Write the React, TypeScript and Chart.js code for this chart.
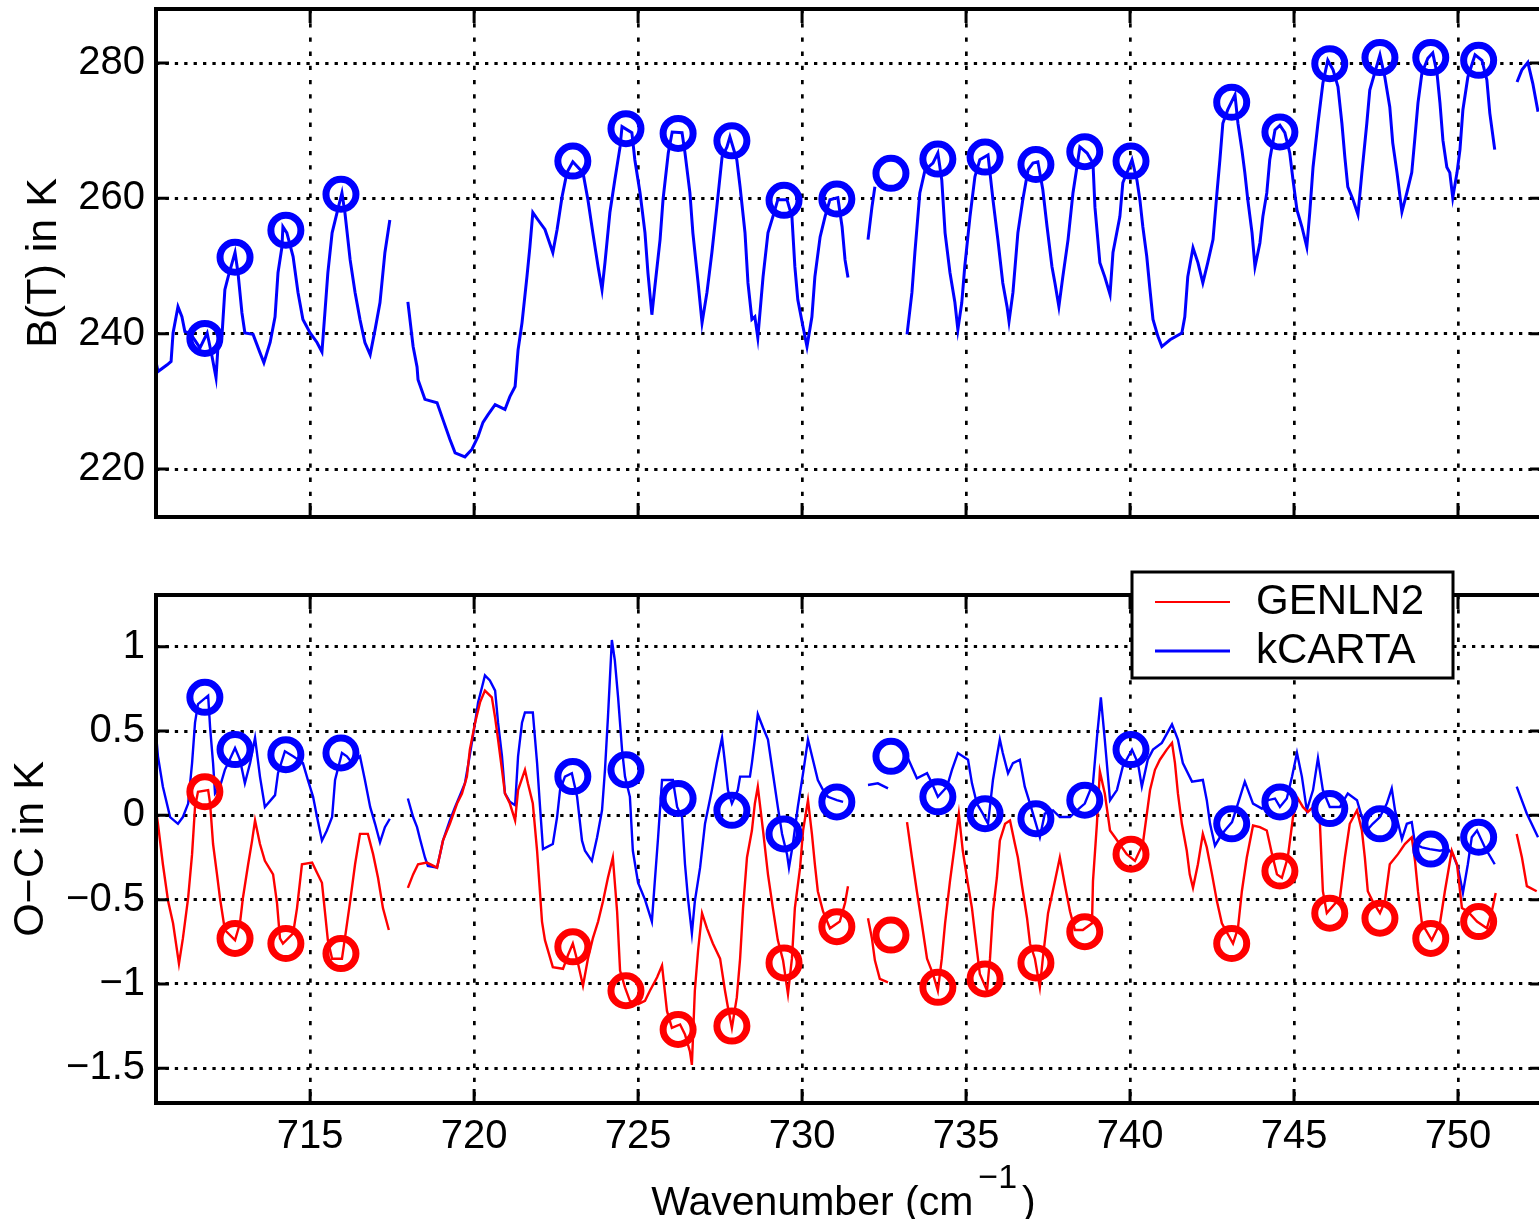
import React, { useEffect, useRef } from 'react';
import { Chart, registerables } from 'chart.js';

Chart.register(...registerables);

const FONT = "'Liberation Sans', Arial, Helvetica, sans-serif";
const BLUE = '#0000ff';
const RED = '#ff0000';

// ---------- axis values ----------
const wnTicks = [715, 720, 725, 730, 735, 740, 745, 750];
const btTicks = [220, 240, 260, 280];
const ocTicks = [-1.5, -1, -0.5, 0, 0.5, 1];
const WN_MIN = 710.3;
const WN_MAX = 752.47;
const BT_MIN = 212.91;
const BT_MAX = 287.98;
const OC_MIN = -1.706;
const OC_MAX = 1.307;

// ---------- top panel: brightness temperature (null = gap) ----------
const topWn = [
  710.27, 710.36, 710.64, 710.76, 710.82, 710.97, 711.09, 711.18, 711.34, 711.64, 711.86, 712.01, 712.13, 712.19, 712.31,
  712.40, 712.50, 712.71, 712.80, 712.92, 713.01, 713.26, 713.47, 713.59, 713.78, 713.93, 714.02, 714.14, 714.17, 714.29,
  714.48, 714.63, 714.78, 715.00, 715.21, 715.36, 715.45, 715.54, 715.67, 715.82, 715.97, 716.06, 716.22, 716.37, 716.52,
  716.67, 716.83, 716.98, 717.13, 717.28, 717.43, 717.7,
  717.98, 718.14, 718.26, 718.29, 718.50, 718.87, 719.05, 719.26, 719.42, 719.72, 719.93, 720.12, 720.27, 720.42, 720.64,
  720.94, 721.09, 721.25, 721.34, 721.46, 721.61, 721.70, 721.79, 721.95, 722.16, 722.40, 722.53, 722.68, 722.83, 723.01,
  723.32, 723.47, 723.62, 723.78, 723.90, 723.99, 724.14, 724.29, 724.45, 724.51, 724.81, 724.90, 725.06, 725.21, 725.30,
  725.42, 725.51, 725.67, 725.76, 725.92, 726.04, 726.34, 726.43, 726.58, 726.67, 726.83, 726.95, 727.10, 727.25, 727.40,
  727.56, 727.71, 727.80, 728.01, 728.11, 728.26, 728.35, 728.47, 728.56, 728.65, 728.81, 728.96, 729.11, 729.26, 729.54,
  729.69, 729.78, 729.87, 730.03, 730.15, 730.30, 730.39, 730.55, 730.70, 730.85, 731.09, 731.22, 731.31, 731.40, 731.7,
  732.01, 732.13, 732.22, 732.7,
  733.20, 733.35, 733.44, 733.59, 733.75, 733.99, 734.14, 734.26, 734.36, 734.51, 734.66, 734.75, 734.87, 734.96, 735.12,
  735.27, 735.42, 735.67, 735.82, 735.97, 736.12, 736.25, 736.31, 736.43, 736.58, 736.73, 736.89, 737.04, 737.19, 737.34,
  737.47, 737.62, 737.71, 737.83, 737.95, 738.11, 738.26, 738.38, 738.47, 738.69, 738.87, 738.93, 739.08, 739.23, 739.39,
  739.48, 739.69, 739.78, 739.94, 740.06, 740.21, 740.30, 740.39, 740.51, 740.60, 740.70, 740.85, 740.97, 741.22, 741.58,
  741.67, 741.76, 741.92, 742.07, 742.22, 742.37, 742.53, 742.65, 742.74, 742.83, 742.98, 743.20, 743.29, 743.41, 743.50,
  743.59, 743.72, 743.81, 743.96, 744.05, 744.17, 744.26, 744.42, 744.57, 744.72, 744.87, 744.97, 745.09, 745.24, 745.39,
  745.48, 745.58, 745.73, 745.88, 746.03, 746.19, 746.34, 746.46, 746.55, 746.64, 746.80, 746.95, 747.07, 747.22, 747.31,
  747.47, 747.62, 747.77, 747.92, 748.01, 748.14, 748.29, 748.44, 748.59, 748.68, 748.78, 748.90, 749.08, 749.23, 749.36,
  749.45, 749.54, 749.66, 749.75, 749.84, 749.97, 750.06, 750.15, 750.30, 750.52, 750.73, 750.88, 750.97, 751.12, 751.45,
  751.80, 751.95, 752.13, 752.28, 752.44,
];
const topBT = [
  236.6, 234.4, 235.4, 235.9, 240.1, 244.0, 242.5, 240.3, 240.1, 237.9, 240.1, 236.6, 233.5, 238.1, 239.6,
  246.5, 248.4, 252.0, 249.0, 243.1, 240.1, 239.9, 237.2, 235.7, 238.7, 242.5, 249.0, 252.8, 255.8, 254.9,
  251.4, 246.1, 242.1, 240.1, 238.7, 237.3, 243.1, 249.0, 254.9, 257.9, 260.8, 257.9, 250.9, 246.1, 242.1,
  238.7, 236.9, 240.6, 244.6, 252.0, 256.8, null,
  244.7, 238.1, 235.1, 233.2, 230.3, 229.8, 227.3, 224.4, 222.4, 221.8, 222.9, 224.8, 226.9, 228.0, 229.5,
  228.8, 230.7, 232.2, 237.6, 241.6, 248.4, 252.8, 257.9, 256.8, 255.4, 252.0, 255.4, 260.2, 263.8, 265.4,
  263.8, 259.8, 254.9, 249.9, 246.5, 250.5, 257.9, 262.7, 267.6, 270.6, 269.7, 265.7, 260.8, 254.9, 249.0,
  242.8, 246.9, 253.9, 259.8, 266.7, 269.8, 269.7, 266.7, 260.8, 254.9, 247.5, 241.6, 246.1, 252.0, 258.7,
  266.1, 267.6, 269.1, 265.7, 261.7, 254.9, 247.5, 242.1, 242.5, 239.4, 248.4, 254.9, 257.3, 259.8, 259.8,
  257.3, 249.9, 245.0, 241.0, 238.1, 242.5, 248.4, 254.3, 257.3, 259.8, 260.1, 255.8, 250.9, 248.3, null,
  253.9, 258.7, 261.7, null,
  239.9, 246.1, 252.0, 260.8, 264.2, 265.2, 266.7, 262.7, 254.9, 249.0, 244.6, 240.6, 244.6, 249.9, 257.3,
  263.2, 265.7, 266.4, 259.8, 253.9, 247.5, 244.0, 241.8, 246.1, 254.9, 259.8, 264.2, 265.2, 265.4, 261.3,
  255.8, 249.9, 247.5, 244.0, 248.4, 253.9, 260.8, 264.6, 267.6, 266.7, 265.2, 258.7, 250.5, 248.4, 245.8,
  252.0, 257.3, 262.3, 264.2, 265.7, 262.7, 259.8, 255.8, 251.4, 246.9, 242.1, 239.6, 238.1, 239.1, 240.1,
  242.5, 248.4, 252.7, 250.5, 247.5, 250.5, 253.9, 260.8, 265.7, 271.1, 273.1, 275.3, 271.1, 267.2, 263.8,
  259.8, 254.9, 249.9, 253.4, 257.3, 260.8, 265.7, 270.1, 270.8, 269.7, 266.7, 262.7, 258.3, 255.8, 252.8,
  257.9, 264.6, 271.1, 277.0, 280.4, 279.0, 276.5, 271.1, 266.1, 261.7, 259.8, 257.6, 263.8, 271.1, 276.0,
  278.7, 281.2, 277.9, 273.5, 268.2, 263.8, 258.0, 260.8, 263.8, 268.6, 274.1, 278.5, 280.7, 281.5, 278.5,
  274.1, 268.6, 264.6, 263.8, 260.1, 263.8, 267.2, 273.1, 277.9, 281.2, 280.4, 277.5, 272.6, 267.2, null,
  277.2, 279.0, 280.1, 277.0, 272.8,
];

// ---------- bottom panel: O-C, kCARTA (null = gap) ----------
const kcartaWn = [
  710.27, 710.36, 710.51, 710.73, 710.97, 711.12, 711.28, 711.40, 711.49, 711.58, 711.89, 711.95, 712.04, 712.10, 712.25,
  712.40, 712.50, 712.71, 712.86, 713.01, 713.17, 713.32, 713.47, 713.62, 713.93, 714.02, 714.23, 714.48, 714.78, 714.93,
  715.09, 715.21, 715.36, 715.51, 715.67, 715.76, 715.97, 716.12, 716.28, 716.52, 716.67, 716.83, 716.98, 717.13, 717.28,
  717.43, 717.7,
  717.98, 718.14, 718.26, 718.35, 718.50, 718.59, 718.87, 718.96, 719.05, 719.26, 719.42, 719.57, 719.72, 719.81, 719.93,
  720.03, 720.12, 720.24, 720.33, 720.48, 720.64, 720.73, 720.85, 720.94, 721.09, 721.25, 721.34, 721.46, 721.55, 721.79,
  721.92, 722.01, 722.10, 722.40, 722.53, 722.62, 722.77, 722.98, 723.14, 723.29, 723.38, 723.59, 723.75, 723.90, 723.99,
  724.08, 724.20, 724.29, 724.39, 724.51, 724.60, 724.75, 724.84, 725.00, 725.21, 725.42, 725.51, 725.61, 725.73, 726.06,
  726.19, 726.34, 726.43, 726.52, 726.64, 726.73, 726.89, 727.04, 727.25, 727.40, 727.56, 727.65, 727.74, 727.86, 728.04,
  728.11, 728.41, 728.47, 728.56, 728.65, 728.81, 728.96, 729.11, 729.26, 729.39, 729.54, 729.60, 729.72, 729.87, 730.03,
  730.18, 730.33, 730.48, 730.64, 730.79, 731.06, 731.25, 731.6,
  732.01, 732.31, 732.62, 732.9,
  733.20, 733.50, 733.81, 733.96, 734.14, 734.42, 734.57, 734.75, 735.06, 735.18, 735.33, 735.51, 735.67, 735.82, 735.94,
  736.03, 736.12, 736.28, 736.43, 736.64, 736.79, 736.95, 737.10, 737.25, 737.40, 737.65, 737.86, 738.17, 738.38, 738.62,
  738.87, 738.99, 739.11, 739.23, 739.39, 739.60, 739.78, 740.06, 740.24, 740.36, 740.54, 740.70, 740.97, 741.28, 741.46,
  741.61, 741.89, 742.22, 742.34, 742.44, 742.59, 742.74, 742.89, 743.11, 743.29, 743.50, 743.75, 744.02, 744.20, 744.42,
  744.57, 744.78, 744.94, 745.09, 745.24, 745.39, 745.58, 745.73, 745.88, 746.09, 746.40, 746.64, 746.92, 747.07, 747.22,
  747.40, 747.62, 747.83, 747.98, 748.08, 748.29, 748.44, 748.59, 748.69, 748.90, 749.14, 749.45, 749.69, 749.84, 750.00,
  750.15, 750.30, 750.42, 750.58, 750.82, 751.12, 751.45,
  751.79, 752.10, 752.44,
];
const kcartaOC = [
  0.55, 0.35, 0.17, -0.01, -0.05, -0.01, 0.07, 0.31, 0.55, 0.66, 0.71, 0.52, 0.31, 0.13, 0.17,
  0.27, 0.31, 0.40, 0.33, 0.19, 0.31, 0.46, 0.23, 0.05, 0.12, 0.25, 0.38, 0.35, 0.31, 0.21,
  0.11, -0.01, -0.15, -0.09, -0.01, 0.21, 0.37, 0.35, 0.31, 0.35, 0.21, 0.05, -0.05, -0.16, -0.07,
  -0.02, null,
  0.10, -0.01, -0.07, -0.14, -0.25, -0.30, -0.31, -0.23, -0.15, -0.03, 0.05, 0.12, 0.19, 0.29, 0.43,
  0.55, 0.67, 0.76, 0.83, 0.80, 0.74, 0.55, 0.35, 0.13, 0.08, 0.06, 0.35, 0.55, 0.61, 0.61,
  0.31, 0.05, -0.20, -0.17, -0.01, 0.15, 0.23, 0.25, 0.11, -0.15, -0.21, -0.27, -0.13, 0.03, 0.27,
  0.58, 1.04, 0.92, 0.70, 0.39, 0.23, 0.11, -0.21, -0.40, -0.50, -0.63, -0.39, -0.13, 0.21, 0.21,
  0.05, -0.01, -0.29, -0.49, -0.70, -0.51, -0.31, -0.05, 0.15, 0.31, 0.46, 0.31, 0.15, 0.07, 0.15,
  0.23, 0.23, 0.31, 0.45, 0.60, 0.52, 0.45, 0.25, 0.05, -0.11, -0.23, -0.31, -0.17, 0.05, 0.25,
  0.45, 0.33, 0.21, 0.15, 0.11, 0.09, 0.08, null,
  0.18, 0.19, 0.16, null,
  0.35, 0.22, 0.25, 0.19, 0.11, 0.17, 0.27, 0.37, 0.33, 0.19, 0.07, 0.01, -0.05, 0.21, 0.35,
  0.45, 0.37, 0.25, 0.31, 0.33, 0.17, 0.07, -0.03, -0.13, 0.01, 0.03, -0.01, -0.01, 0.03, 0.07,
  0.19, 0.46, 0.70, 0.45, 0.09, 0.15, 0.29, 0.39, 0.31, 0.17, 0.33, 0.39, 0.43, 0.54, 0.45,
  0.31, 0.20, 0.21, 0.09, -0.05, -0.18, -0.13, -0.09, -0.04, 0.07, 0.20, 0.07, 0.04, 0.09, 0.10,
  0.05, 0.10, 0.23, 0.37, 0.23, 0.03, 0.15, 0.34, 0.15, 0.05, 0.05, 0.13, 0.09, -0.01, -0.09,
  -0.05, -0.01, 0.07, 0.16, 0.03, -0.14, -0.05, -0.04, -0.17, -0.19, -0.20, -0.21, -0.20, -0.23, -0.31,
  -0.46, -0.29, -0.13, -0.09, -0.19, -0.29, null,
  0.17, 0.01, -0.13,
];

// ---------- bottom panel: O-C, GENLN2 (null = gap) ----------
const genln2Wn = [
  710.27, 710.36, 710.51, 710.67, 710.82, 711.00, 711.12, 711.28, 711.40, 711.49, 711.58, 711.89, 711.95, 712.04, 712.16,
  712.25, 712.40, 712.71, 712.86, 712.95, 713.11, 713.23, 713.32, 713.47, 713.62, 713.87, 713.99, 714.08, 714.17, 714.48,
  714.60, 714.75, 715.06, 715.21, 715.36, 715.45, 715.54, 715.67, 715.97, 716.06, 716.22, 716.37, 716.52, 716.76, 716.92,
  717.07, 717.22, 717.40, 717.7,
  717.98, 718.14, 718.29, 718.56, 718.87, 718.96, 719.05, 719.26, 719.48, 719.63, 719.78, 719.87, 720.03, 720.18, 720.33,
  720.54, 720.64, 720.73, 720.85, 720.94, 721.09, 721.25, 721.34, 721.55, 721.64, 721.79, 721.92, 722.07, 722.16, 722.40,
  722.71, 722.86, 723.01, 723.17, 723.32, 723.47, 723.62, 723.78, 723.93, 724.08, 724.23, 724.36, 724.45, 724.60, 724.75,
  725.00, 725.21, 725.36, 725.58, 725.73, 725.88, 726.03, 726.28, 726.43, 726.58, 726.64, 726.73, 726.83, 726.95, 727.10,
  727.28, 727.50, 727.65, 727.74, 727.86, 728.01, 728.11, 728.20, 728.32, 728.47, 728.56, 728.65, 728.81, 728.96, 729.11,
  729.26, 729.42, 729.57, 729.69, 729.78, 729.94, 730.03, 730.18, 730.30, 730.39, 730.48, 730.64, 730.85, 731.15, 731.31,
  731.40, 731.7,
  732.01, 732.13, 732.22, 732.37, 732.62, 732.9,
  733.20, 733.35, 733.50, 733.65, 733.81, 733.99, 734.14, 734.26, 734.36, 734.51, 734.66, 734.78, 734.90, 735.06, 735.18,
  735.27, 735.42, 735.64, 735.73, 735.82, 735.94, 736.03, 736.19, 736.34, 736.49, 736.58, 736.70, 736.86, 736.95, 737.10,
  737.25, 737.34, 737.50, 737.71, 737.86, 738.01, 738.17, 738.32, 738.56, 738.84, 738.87, 738.99, 739.08, 739.23, 739.39,
  739.54, 739.90, 740.15, 740.39, 740.61, 740.76, 740.91, 741.12, 741.28, 741.37, 741.46, 741.58, 741.73, 741.82, 741.92,
  742.07, 742.22, 742.34, 742.50, 742.65, 742.80, 743.14, 743.29, 743.41, 743.56, 743.75, 743.96, 744.17, 744.33, 744.48,
  744.63, 744.81, 744.97, 745.12, 745.27, 745.42, 745.64, 745.79, 745.88, 746.00, 746.40, 746.55, 746.70, 746.92, 747.07,
  747.16, 747.25, 747.40, 747.62, 747.77, 747.92, 748.17, 748.38, 748.59, 748.69, 748.78, 748.90, 749.20, 749.45, 749.60,
  749.81, 749.97, 750.12, 750.30, 750.58, 750.88, 751.03, 751.15, 751.45,
  751.79, 751.95, 752.10, 752.40,
];
const genln2OC = [
  0.07, -0.05, -0.29, -0.51, -0.64, -0.88, -0.73, -0.49, -0.23, 0.05, 0.14, 0.15, 0.07, -0.17, -0.35,
  -0.49, -0.68, -0.74, -0.64, -0.49, -0.29, -0.15, -0.03, -0.17, -0.27, -0.35, -0.52, -0.73, -0.76, -0.70,
  -0.55, -0.29, -0.28, -0.34, -0.40, -0.57, -0.74, -0.85, -0.85, -0.73, -0.51, -0.29, -0.11, -0.11, -0.23,
  -0.37, -0.55, -0.68, null,
  -0.43, -0.35, -0.29, -0.28, -0.31, -0.23, -0.15, -0.05, 0.07, 0.13, 0.23, 0.39, 0.55, 0.67, 0.74,
  0.70, 0.58, 0.45, 0.27, 0.13, 0.07, -0.03, 0.15, 0.27, 0.19, 0.07, -0.21, -0.63, -0.74, -0.90,
  -0.91, -0.83, -0.76, -0.88, -1.01, -0.85, -0.73, -0.63, -0.51, -0.37, -0.25, -0.57, -0.92, -1.02, -1.10,
  -1.12, -1.10, -1.04, -0.96, -0.89, -1.16, -1.26, -1.24, -1.30, -1.40, -1.48, -1.04, -0.80, -0.58, -0.67,
  -0.76, -0.85, -1.04, -1.14, -1.26, -1.08, -0.85, -0.55, -0.25, -0.09, 0.07, 0.17, -0.09, -0.35, -0.55,
  -0.74, -0.86, -1.06, -0.85, -0.55, -0.31, -0.09, 0.09, -0.11, -0.29, -0.45, -0.57, -0.67, -0.63, -0.52,
  -0.42, null,
  -0.61, -0.73, -0.86, -0.97, -0.99, null,
  -0.04, -0.25, -0.45, -0.64, -0.85, -0.94, -1.04, -0.85, -0.64, -0.39, -0.17, 0.01, -0.21, -0.41, -0.55,
  -0.70, -0.94, -1.04, -0.85, -0.57, -0.37, -0.15, -0.05, -0.03, -0.17, -0.25, -0.41, -0.61, -0.76, -0.85,
  -1.02, -0.85, -0.58, -0.39, -0.25, -0.41, -0.57, -0.68, -0.68, -0.64, -0.39, -0.05, 0.26, 0.13, -0.09,
  -0.13, -0.23, -0.27, -0.17, 0.15, 0.27, 0.33, 0.39, 0.43, 0.31, 0.13, -0.05, -0.21, -0.35, -0.43,
  -0.29, -0.11, -0.19, -0.35, -0.51, -0.64, -0.76, -0.67, -0.45, -0.25, -0.06, -0.07, -0.09, -0.23, -0.35,
  -0.37, -0.25, -0.01, 0.10, 0.05, 0.02, 0.06, -0.05, -0.45, -0.58, -0.49, -0.25, -0.05, 0.03, -0.09,
  -0.25, -0.45, -0.51, -0.58, -0.51, -0.29, -0.23, -0.17, -0.13, -0.27, -0.45, -0.64, -0.74, -0.64, -0.45,
  -0.21, -0.29, -0.55, -0.57, -0.63, -0.67, -0.57, -0.46, null,
  -0.11, -0.25, -0.42, -0.45,
];

// ---------- circled line-centre channels ----------
const peakWn = [
  711.79, 712.71, 714.26, 715.94, 723.01, 724.63, 726.22, 727.86, 729.45, 731.06, 732.71,
  734.14, 735.58, 737.13, 738.62, 740.03, 743.10, 744.57, 746.09, 747.62, 749.17, 750.63,
];
const peakBT = [
  239.3, 251.3, 255.3, 260.6, 265.5, 270.3, 269.6, 268.5, 259.7, 259.9, 263.7,
  265.8, 266.1, 265.0, 266.9, 265.5, 274.2, 269.8, 279.9, 280.8, 280.8, 280.4,
];
const peakKcarta = [
  0.70, 0.39, 0.36, 0.37, 0.23, 0.27, 0.10, 0.03, -0.11, 0.08, 0.35,
  0.11, 0.01, -0.02, 0.09, 0.39, -0.05, 0.08, 0.04, -0.05, -0.20, -0.13,
];
const peakGenln2 = [
  0.14, -0.73, -0.76, -0.82, -0.78, -1.04, -1.27, -1.25, -0.875, -0.66, -0.71,
  -1.02, -0.97, -0.875, -0.69, -0.23, -0.76, -0.33, -0.58, -0.61, -0.73, -0.63,
];

const legendItems = [
  { label: 'GENLN2', color: RED },
  { label: 'kCARTA', color: BLUE },
];

// ---------- helpers ----------
const toPts = (xs: number[], ys: (number | null)[]) => xs.map((x, i) => ({ x, y: ys[i] }));
const fmtNum = (v: any) => {
  const n = Math.round(Number(v) * 10) / 10;
  return (n === 0 ? '0' : String(n)).replace('-', '\u2212');
};

const framePlugin = {
  id: 'matFrame',
  afterDraw(chart: any) {
    const { ctx, chartArea: a, scales } = chart;
    const xs = scales.x;
    const ys = scales.y;
    ctx.save();
    ctx.strokeStyle = '#000';
    ctx.lineCap = 'butt';
    ctx.lineWidth = 3;
    ctx.beginPath();
    xs.ticks.forEach((t: any) => {
      const p = xs.getPixelForValue(t.value);
      ctx.moveTo(p, a.top);
      ctx.lineTo(p, a.top + 14);
      ctx.moveTo(p, a.bottom);
      ctx.lineTo(p, a.bottom - 14);
    });
    ys.ticks.forEach((t: any) => {
      const p = ys.getPixelForValue(t.value);
      ctx.moveTo(a.left, p);
      ctx.lineTo(a.left + 13, p);
      ctx.moveTo(a.right, p);
      ctx.lineTo(a.right - 9, p);
    });
    ctx.stroke();
    ctx.lineWidth = 4;
    ctx.lineJoin = 'miter';
    ctx.beginPath();
    ctx.moveTo(a.right + 4, a.top);
    ctx.lineTo(a.left, a.top);
    ctx.lineTo(a.left, a.bottom);
    ctx.lineTo(a.right + 4, a.bottom);
    ctx.stroke();
    ctx.restore();
  },
};

const legendPlugin = {
  id: 'boxLegend',
  afterDraw(chart: any) {
    const { ctx } = chart;
    const bx = 1132, by = 32, bw = 321, bh = 106;
    ctx.save();
    ctx.fillStyle = '#fff';
    ctx.fillRect(bx, by, bw, bh);
    ctx.strokeStyle = '#000';
    ctx.lineWidth = 3;
    ctx.strokeRect(bx, by, bw, bh);
    legendItems.forEach((it, i) => {
      const y = by + 30 + i * 49;
      ctx.strokeStyle = it.color;
      ctx.lineWidth = i === 0 ? 2 : 3;
      ctx.beginPath();
      ctx.moveTo(bx + 23, y);
      ctx.lineTo(bx + 98, y);
      ctx.stroke();
      ctx.fillStyle = '#000';
      ctx.font = `42px ${FONT}`;
      ctx.textBaseline = 'middle';
      ctx.textAlign = 'left';
      ctx.fillText(it.label, bx + 124, y);
    });
    ctx.restore();
  },
};

const xTitlePlugin = {
  id: 'xTitle',
  afterDraw(chart: any) {
    const { ctx, chartArea: a } = chart;
    const main = `41px ${FONT}`;
    const sup = `34px ${FONT}`;
    const t1 = 'Wavenumber (cm';
    const ts = '\u22121';
    const t2 = ')';
    ctx.save();
    ctx.fillStyle = '#000';
    ctx.textBaseline = 'alphabetic';
    ctx.textAlign = 'left';
    ctx.font = main;
    const w1 = ctx.measureText(t1).width;
    const w2 = ctx.measureText(t2).width;
    ctx.font = sup;
    const ws = ctx.measureText(ts).width;
    const gap1 = 5, gap2 = 5;
    const total = w1 + gap1 + ws + gap2 + w2;
    let x = (a.left + a.right) / 2 - 4 - total / 2;
    const base = a.bottom + 112;
    ctx.font = main;
    ctx.fillText(t1, x, base);
    x += w1 + gap1;
    ctx.font = sup;
    ctx.fillText(ts, x, base - 27);
    x += ws + gap2;
    ctx.font = main;
    ctx.fillText(t2, x, base);
    ctx.restore();
  },
};

const xScale = (labels: boolean, height: number) => ({
  type: 'linear',
  min: WN_MIN,
  max: WN_MAX,
  afterBuildTicks: (s: any) => {
    s.ticks = wnTicks.map((v) => ({ value: v }));
  },
  afterFit: (s: any) => {
    s.height = height;
    s.paddingLeft = 0;
    s.paddingRight = 0;
  },
  grid: { color: '#000', lineWidth: 2.7, drawTicks: false },
  border: { display: false, dash: [4.3, 9.9] },
  ticks: {
    display: labels,
    autoSkip: false,
    maxRotation: 0,
    padding: 10,
    color: '#000',
    font: { family: FONT, size: 40 },
    callback: (v: any) => String(v),
  },
});

const yScale = (min: number, max: number, ticks: number[], title: string, titlePad: number) => ({
  type: 'linear',
  min,
  max,
  afterBuildTicks: (s: any) => {
    s.ticks = ticks.map((v) => ({ value: v }));
  },
  afterFit: (s: any) => {
    s.width = 156;
    s.paddingTop = 0;
    s.paddingBottom = 0;
  },
  grid: { color: '#000', lineWidth: 3, drawTicks: false },
  border: { display: false, dash: [3.3, 6.1] },
  ticks: {
    padding: 11,
    color: '#000',
    font: { family: FONT, size: 40 },
    callback: (v: any) => fmtNum(v),
  },
  title: {
    display: true,
    text: title,
    color: '#000',
    font: { family: FONT, size: 43 },
    padding: { top: titlePad, bottom: 0 },
  },
});

const lineDs = (label: string, data: any[], color: string, width: number, order: number) => ({
  label,
  data,
  borderColor: color,
  borderWidth: width,
  pointRadius: 0,
  pointHoverRadius: 0,
  fill: false,
  tension: 0,
  spanGaps: false,
  order,
});

const circleDs = (label: string, data: any[], color: string, order: number) => ({
  label,
  data,
  showLine: false,
  pointStyle: 'circle',
  pointRadius: 15,
  pointHoverRadius: 15,
  pointBorderWidth: 7,
  pointBorderColor: color,
  pointBackgroundColor: 'rgba(0,0,0,0)',
  borderColor: color,
  order,
});

export default function App() {
  const topRef = useRef<HTMLCanvasElement | null>(null);
  const botRef = useRef<HTMLCanvasElement | null>(null);

  useEffect(() => {
    document.body.style.margin = '0';
    const common = {
      animation: false,
      responsive: false,
      devicePixelRatio: 1,
      events: [],
      plugins: { legend: { display: false }, tooltip: { enabled: false }, title: { display: false } },
    };

    const top = new Chart(topRef.current as HTMLCanvasElement, {
      type: 'line',
      data: {
        datasets: [
          circleDs('B(T) line centres', toPts(peakWn, peakBT), BLUE, 0),
          lineDs('B(T)', toPts(topWn, topBT), BLUE, 3, 1),
        ],
      },
      options: {
        ...common,
        layout: { autoPadding: false, padding: { top: 9, left: 0, right: 0, bottom: 0 } },
        scales: {
          x: xScale(false, 23),
          y: yScale(BT_MIN, BT_MAX, btTicks, 'B(T) in K', 18),
        },
      } as any,
      plugins: [framePlugin],
    });

    const bot = new Chart(botRef.current as HTMLCanvasElement, {
      type: 'line',
      data: {
        datasets: [
          circleDs('kCARTA centres', toPts(peakWn, peakKcarta), BLUE, 0),
          circleDs('GENLN2 centres', toPts(peakWn, peakGenln2), RED, 0),
          lineDs('GENLN2', toPts(genln2Wn, genln2OC), RED, 2.4, 1),
          lineDs('kCARTA', toPts(kcartaWn, kcartaOC), BLUE, 2.4, 2),
        ],
      },
      options: {
        ...common,
        layout: { autoPadding: false, padding: { top: 55, left: 0, right: 0, bottom: 0 } },
        scales: {
          x: xScale(true, 116),
          y: yScale(OC_MIN, OC_MAX, ocTicks, 'O\u2212C in K', 5),
        },
      } as any,
      plugins: [framePlugin, legendPlugin, xTitlePlugin],
    });

    return () => {
      top.destroy();
      bot.destroy();
    };
  }, []);

  return (
    <div style={{ position: 'absolute', left: 0, top: 0, width: 1539, height: 1219, overflow: 'hidden', background: '#fff' }}>
      <canvas ref={topRef} width={1539} height={540} style={{ position: 'absolute', left: 0, top: 0, width: 1539, height: 540 }} />
      <canvas ref={botRef} width={1539} height={679} style={{ position: 'absolute', left: 0, top: 540, width: 1539, height: 679 }} />
    </div>
  );
}
